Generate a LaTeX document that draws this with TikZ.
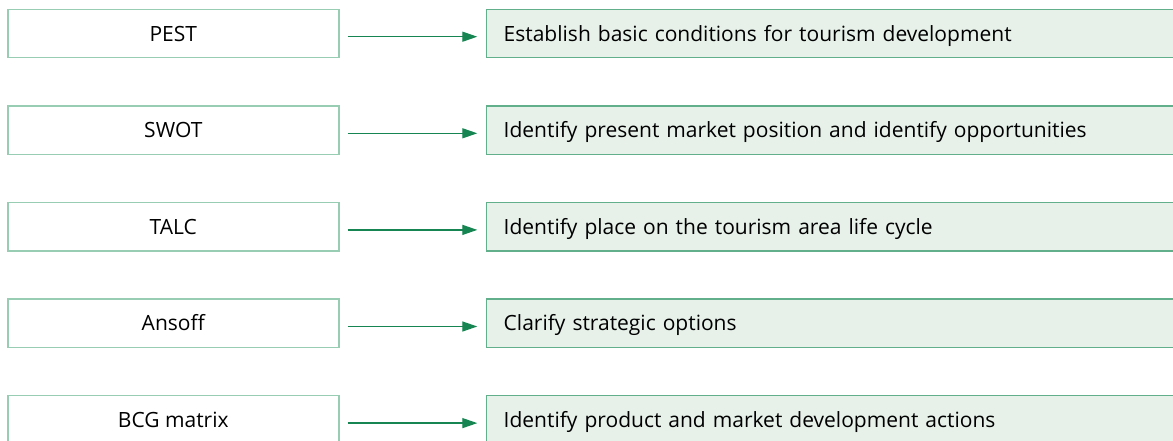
\documentclass[tikz,border=0pt]{standalone}
\usepackage{fontspec}
\setmainfont{Open Sans}
\usetikzlibrary{arrows.meta}
\definecolor{lborder}{HTML}{98CDB4}
\definecolor{rborder}{HTML}{62B08B}
\definecolor{rfill}{HTML}{E7F1EA}
\definecolor{arrgreen}{HTML}{168552}
\tikzset{
  srcbox/.style={draw=lborder, fill=white, line width=1.4pt, minimum width=331pt, minimum height=48.4pt, inner sep=0pt, font=\fontsize{21pt}{24pt}\selectfont, text height=15pt, text depth=0pt},
  goalbox/.style={draw=rborder, fill=rfill, line width=1.4pt, anchor=west, text width=660pt, align=left, inner xsep=17pt, inner ysep=0pt, minimum height=48.4pt, font=\fontsize{21pt}{24pt}\selectfont, text height=15pt, text depth=0pt},
  conn/.style={draw=arrgreen, line width=1.3pt, -{Triangle[length=15pt,width=10pt]}}
}
\begin{document}
\begin{tikzpicture}[x=1pt,y=-1pt]
\clip (0,0) rectangle (1173,440);
\fill[white] (0,0) rectangle (1173,440);
\foreach \i/\a/\b in {0/PEST/Establish basic conditions for tourism development,
                     1/SWOT/Identify present market position and identify opportunities,
                     2/TALC/Identify place on the tourism area life cycle,
                     3/Ansoff/Clarify strategic options,
                     4/BCG matrix/Identify product and market development actions}{
  \pgfmathsetmacro{\yc}{33.5+96.6*\i}
  \node[srcbox] (L\i) at (173.3,\yc) {\a};
  \node[goalbox] (R\i) at (486,\yc) {\b};
  \draw[conn] ([xshift=8pt,yshift=-3.2pt]L\i.east) -- ([xshift=-8.7pt,yshift=-3.2pt]R\i.west);
}
\end{tikzpicture}
\end{document}
